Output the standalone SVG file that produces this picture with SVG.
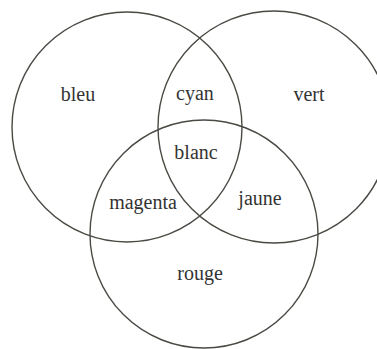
<svg xmlns="http://www.w3.org/2000/svg" width="377" height="349" viewBox="0 0 377 349">
  <style>
    .ring { fill: none; stroke: #4a4a44; stroke-width: 1.4; }
    .lbl { font-family: "Liberation Serif", "Times New Roman", serif; font-size: 20px; fill: #333; text-anchor: middle; }
  </style>
  <rect width="377" height="349" fill="#ffffff"/>
  <g id="set-bleu">
    <circle class="ring" cx="127" cy="127" r="115"/>
    <text class="lbl" x="78" y="101">bleu</text>
  </g>
  <g id="set-vert">
    <circle class="ring" cx="274" cy="127" r="116"/>
    <text class="lbl" x="309" y="101">vert</text>
  </g>
  <g id="set-rouge">
    <circle class="ring" cx="204" cy="234" r="114"/>
    <text class="lbl" x="200" y="280">rouge</text>
  </g>
  <g id="region-cyan">
    <text class="lbl" x="195" y="100">cyan</text>
  </g>
  <g id="region-blanc">
    <text class="lbl" x="196" y="159">blanc</text>
  </g>
  <g id="region-magenta">
    <text class="lbl" x="143" y="209">magenta</text>
  </g>
  <g id="region-jaune">
    <text class="lbl" x="260" y="205">jaune</text>
  </g>
</svg>
